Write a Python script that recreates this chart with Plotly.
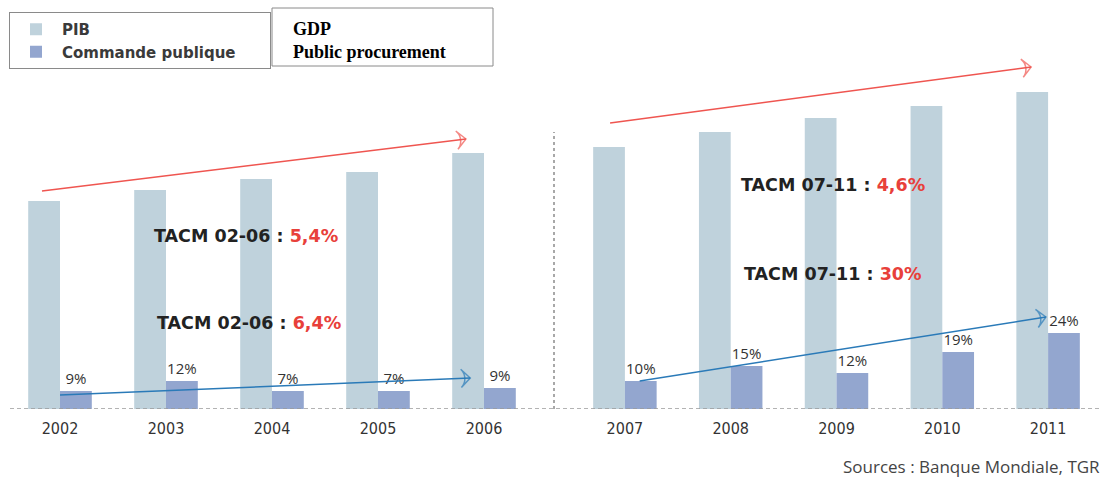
import plotly.graph_objects as go

# ---------------- data ----------------
years_left = ["2002", "2003", "2004", "2005", "2006"]
pib_left = [208, 219, 230, 237, 256]
cp_left = [18, 28, 18, 18, 21]
share_left = ["9%", "12%", "7%", "7%", "9%"]

years_right = ["2007", "2008", "2009", "2010", "2011"]
pib_right = [262, 277, 291, 303, 317]
cp_right = [28, 43, 36, 57, 76]
share_right = ["10%", "15%", "12%", "19%", "24%"]

tacm_left = ["5,4%", "6,4%"]
tacm_right = ["4,6%", "30%"]

# ---------------- style ----------------
W, H = 1107, 477
PIB_COLOR = "#bfd2dc"
CP_COLOR = "#93a6cf"
RED = "#ef5550"
RED_TXT = "#e8403a"
BLUE = "#2a7ab8"
TXT = "#333333"
BAR_W = 0.3

def px_x(p):
    return p / W

def px_y(p):
    return 1 - p / H

fig = go.Figure()

idx = list(range(5))

for xa, years, pib, cp, share, show in [
    ("x", years_left, pib_left, cp_left, share_left, True),
    ("x2", years_right, pib_right, cp_right, share_right, False),
]:
    fig.add_trace(go.Bar(
        x=idx, y=pib, width=BAR_W, offset=-BAR_W, marker_color=PIB_COLOR,
        marker_line_width=0, name="<b>PIB</b>", legendgroup="pib",
        showlegend=show, xaxis=xa, yaxis="y", hoverinfo="skip"))
    fig.add_trace(go.Bar(
        x=idx, y=cp, width=BAR_W, offset=0, marker_color=CP_COLOR,
        marker_line_width=0,
        name="<b>Commande publique</b>&nbsp;&nbsp;&nbsp;&nbsp;&nbsp;&nbsp;",
        legendgroup="cp",
        showlegend=show, xaxis=xa, yaxis="y", text=share,
        textposition="outside", cliponaxis=False,
        textfont=dict(family="Open Sans", size=15, color=TXT),
        hoverinfo="skip"))

# trend arrows (annotation overlays)
arrows = [
    ("x", [-0.17, 3.83], [218, 270], RED),
    ("x2", [-0.14, 3.84], [286, 342], RED),
    ("x", [0.0, 3.87], [14, 31], BLUE),
    ("x2", [0.14, 3.98], [28, 92], BLUE),
]
for xa, ax, ay, col in arrows:
    fig.add_trace(go.Scatter(
        x=ax, y=ay, mode="lines+markers", xaxis=xa, yaxis="y",
        line=dict(color=col, width=1.5),
        marker=dict(symbol="arrow-wide-open", angleref="previous",
                    size=[0, 13], color=col, line=dict(color=col, width=1.5)),
        showlegend=False, hoverinfo="skip", cliponaxis=False))

y_bottom = (H - 409) / H
y_top = (H - 40) / H
axis_common = dict(range=[-0.5, 4.5], showgrid=False, zeroline=False,
                   showline=False, ticks="outside", ticklen=5,
                   tickcolor="rgba(0,0,0,0)", tickvals=idx,
                   tickfont=dict(family="DejaVu Sans Condensed", size=16, color=TXT),
                   fixedrange=True)

fig.update_layout(
    width=W, height=H,
    margin=dict(l=0, r=0, t=0, b=0),
    paper_bgcolor="white", plot_bgcolor="white",
    barmode="overlay",
    xaxis=dict(domain=[px_x(7), px_x(537)], ticktext=years_left, anchor="y", **axis_common),
    xaxis2=dict(domain=[px_x(572), px_x(1101)], ticktext=years_right, anchor="y", **axis_common),
    yaxis=dict(domain=[y_bottom, y_top], range=[0, 369], visible=False, fixedrange=True),
    legend=dict(x=px_x(9), y=px_y(12), xanchor="left", yanchor="top",
                bordercolor="#8a8a8a", borderwidth=1, bgcolor="white",
                font=dict(family="DejaVu Sans", size=15, color="#3a3a3a"),
                traceorder="normal", tracegroupgap=0, itemclick=False,
                itemwidth=42),
    showlegend=True,
)

# baseline and divider
fig.add_shape(type="line", xref="paper", yref="y", x0=px_x(10), x1=px_x(1100),
              y0=0, y1=0, line=dict(color="#9a9a9a", width=1.5, dash="4px,3px"))
fig.add_shape(type="line", xref="paper", yref="y", x0=px_x(554), x1=px_x(554),
              y0=0, y1=277, line=dict(color="#a8a8a8", width=2, dash="3px,3px"))

# TACM annotations
def tacm(xa, x, y, label, val):
    fig.add_annotation(
        xref=xa, yref="y", x=x, y=y, showarrow=False,
        text=f"<b>TACM {label} : <span style='color:{RED_TXT}'>{val}</span></b>",
        font=dict(family="DejaVu Sans", size=17.5, color="#222222"))

tacm("x", 1.75, 173, "02-06", tacm_left[0])
tacm("x", 1.78, 86, "02-06", tacm_left[1])
tacm("x2", 1.97, 224, "07-11", tacm_right[0])
tacm("x2", 1.97, 135, "07-11", tacm_right[1])

# English legend box
fig.add_shape(type="rect", xref="paper", yref="paper",
              x0=px_x(272), x1=px_x(493), y0=px_y(66), y1=px_y(8),
              line=dict(color="#8a8a8a", width=1), fillcolor="white", layer="above")
fig.add_annotation(
    xref="paper", yref="paper", x=px_x(291), y=px_y(40), xanchor="left", yanchor="middle",
    showarrow=False, align="left",
    text="<b>GDP</b><br><b>Public procurement</b>",
    font=dict(family="Liberation Serif", size=18, color="black"))

# sources
fig.add_annotation(
    xref="paper", yref="paper", x=px_x(1102), y=px_y(466), xanchor="right", yanchor="middle",
    showarrow=False, text="Sources : Banque Mondiale, TGR",
    font=dict(family="Open Sans", size=17, color="#444444"))

fig.write_html("out.html", config={"displayModeBar": False})
